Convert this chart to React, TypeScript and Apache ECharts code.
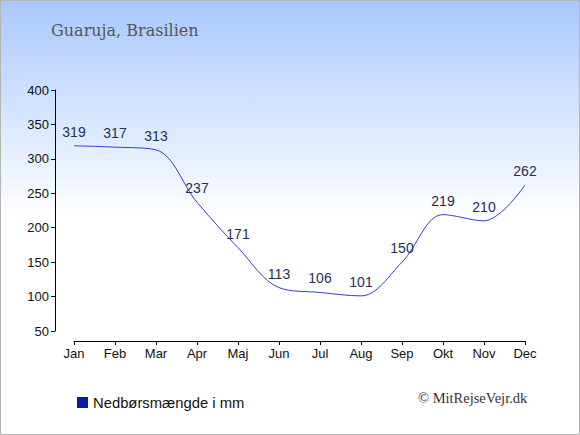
import React, { useEffect, useRef } from "react";
import * as echarts from "echarts";

const months = ["Jan", "Feb", "Mar", "Apr", "Maj", "Jun", "Jul", "Aug", "Sep", "Okt", "Nov", "Dec"];
const rainfall = [319, 317, 313, 237, 171, 113, 106, 101, 150, 219, 210, 262];
const seriesName = "Nedbørsmængde i mm";
const titleText = "Guaruja, Brasilien";
const creditText = "© MitRejseVejr.dk";

export default function App() {
  const ref = useRef<HTMLDivElement>(null);
  useEffect(() => {
    if (!ref.current) return;
    const chart = echarts.init(ref.current, undefined, { renderer: "svg" });
    chart.setOption({
      animation: false,
      backgroundColor: {
        type: "linear",
        x: 0, y: 0, x2: 0, y2: 1,
        colorStops: [
          { offset: 0, color: "#a8c8ff" },
          { offset: 0.5, color: "#ffffff" },
          { offset: 1, color: "#ffffff" },
        ],
      },
      grid: { left: 74, right: 55, top: 90, bottom: 104 },
      xAxis: {
        type: "category",
        data: months,
        boundaryGap: false,
        offset: 10,
        axisLine: { lineStyle: { color: "#000", width: 1 } },
        axisTick: { length: 4, lineStyle: { color: "#000" } },
        axisLabel: { color: "#111", fontSize: 13, fontFamily: "Liberation Sans", margin: 6 },
        splitLine: { show: false },
      },
      yAxis: {
        type: "value",
        min: 50,
        max: 400,
        interval: 50,
        offset: 19,
        axisLine: { show: true, lineStyle: { color: "#000", width: 1 } },
        axisTick: { show: true, length: 4, lineStyle: { color: "#000" } },
        axisLabel: { color: "#111", fontSize: 13, fontFamily: "Liberation Sans", margin: 6 },
        splitLine: { show: false },
      },
      legend: {
        left: 72,
        top: 390,
        icon: "rect",
        itemWidth: 11,
        itemHeight: 11,
        itemGap: 5,
        textStyle: { color: "#111", fontSize: 14.8, fontFamily: "Liberation Sans" },
        data: [{ name: seriesName, itemStyle: { color: "#0a1aaa" } }],
      },
      series: [
        {
          name: seriesName,
          type: "line",
          data: rainfall,
          smooth: 0.35,
          showSymbol: true,
          symbol: "circle",
          symbolSize: 0.01,
          itemStyle: { color: "#0a1aaa" },
          lineStyle: { color: "#3040cc", width: 1 },
          label: {
            show: true,
            position: "top",
            distance: 7,
            color: "#1f2f4f",
            fontSize: 14,
            fontFamily: "Liberation Sans",
          },
        },
      ],
      graphic: [
        {
          type: "rect",
          shape: { x: 0.5, y: 0.5, width: 579, height: 434 },
          style: { fill: "none", stroke: "#b4b4b4", lineWidth: 1 },
          silent: true,
        },
        {
          type: "text",
          left: 51,
          top: 22,
          style: { text: titleText, fill: "#555", fontSize: 16, fontFamily: "DejaVu Serif" },
        },
        {
          type: "text",
          left: 418,
          top: 390,
          style: { text: creditText, fill: "#333", fontSize: 14.5, fontFamily: "Liberation Serif" },
        },
      ],
    });
    return () => chart.dispose();
  }, []);
  return (
    <div
      ref={ref}
      style={{ position: "fixed", left: 0, top: 0, width: 580, height: 435 }}
    />
  );
}
